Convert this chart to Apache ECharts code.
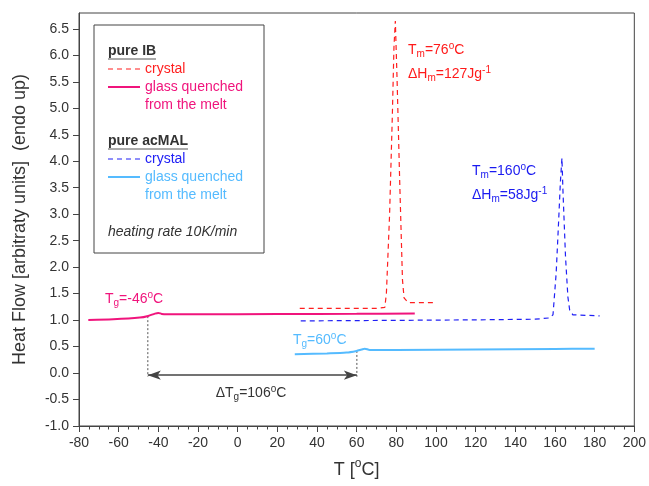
<!DOCTYPE html>
<html><head><meta charset="utf-8">
<script src="https://cdn.jsdelivr.net/npm/echarts@6/dist/echarts.min.js"></script>
<style>html,body{margin:0;padding:0;background:#fff}#c{width:649px;height:486px}</style>
</head><body><div id="c"></div>
<script>
// ---- data ----
const xTicks = [-80,-60,-40,-20,0,20,40,60,80,100,120,140,160,180,200];
const yTicks = [-1.0,-0.5,0.0,0.5,1.0,1.5,2.0,2.5,3.0,3.5,4.0,4.5,5.0,5.5,6.0,6.5];

const ibCrystalT = [31.3, 50, 70, 74.2, 75.0, 76.6, 78.0, 78.8, 79.5, 80.4, 81.7, 83.1, 83.9, 85.9, 99.3];
const ibCrystalV = [1.22, 1.22, 1.22, 1.24, 1.51, 2.99, 4.88, 6.15, 6.65, 5.51, 3.62, 1.76, 1.42, 1.33, 1.33];

const ibGlassT = [-75.3, -62.7, -49.3, -45.1, -41.7, -40.0, -38.3, -35.8, -20, 20, 60, 89.3];
const ibGlassV = [1.004, 1.015, 1.047, 1.079, 1.123, 1.136, 1.117, 1.11, 1.11, 1.115, 1.12, 1.125];

const acCrystalT = [31.8, 80, 120, 150, 157, 159.0, 160.6, 161.8, 162.7, 163.5, 164.0, 165.3, 166.5, 167.4, 169.0, 182.5];
const acCrystalV = [0.985, 0.995, 1.005, 1.017, 1.04, 1.10, 1.89, 2.84, 3.59, 4.06, 3.46, 2.20, 1.44, 1.19, 1.10, 1.08];

const acGlassT = [28.8, 45, 54.9, 59.9, 62.5, 64.1, 66.6, 80, 120, 160, 180];
const acGlassV = [0.355, 0.37, 0.386, 0.418, 0.445, 0.46, 0.437, 0.437, 0.445, 0.455, 0.46];

const tgIB = -45.3, tgIBv = 1.075;
const tgAC = 60.1, tgACv = 0.418;
const arrowLevel = -0.04, dropLevel = -0.07;

// ---- styling ----
const FONT = "'Liberation Sans', Arial, sans-serif";
const RED = '#ff1f1f', PINK = '#f0147c', BLUE = '#2020f5', LBLUE = '#55bbff', GRAY = '#333';
const zip = (a, b) => a.map((v, i) => [v, b[i]]);

function richFor(c) {
  return {
    b:   {fontSize: 14, lineHeight: 18, fill: c, fontFamily: FONT},
    sub: {fontSize: 10, lineHeight: 10, verticalAlign: 'bottom', fill: c, fontFamily: FONT},
    sup: {fontSize: 10, lineHeight: 10, verticalAlign: 'top', fill: c, fontFamily: FONT}
  };
}
function rtext(x, y, text, c, align) {
  return {type: 'text', x: x, y: y, z: 50,
    style: {text: text, rich: richFor(c), align: align || 'left', verticalAlign: 'middle', fill: c, font: '14px ' + FONT}};
}
function ptext(x, y, text, c, extra) {
  return {type: 'text', x: x, y: y, z: 50,
    style: Object.assign({text: text, fill: c, font: '14px ' + FONT, align: 'left', verticalAlign: 'middle'}, extra || {})};
}
function seg(x1, y1, x2, y2, c, w, dash) {
  return {type: 'line', z: 50, shape: {x1: x1, y1: y1, x2: x2, y2: y2},
    style: {stroke: c, lineWidth: w, lineDash: dash || null}};
}

const chart = echarts.init(document.getElementById('c'), null, {renderer: 'canvas'});
const option = {
  animation: false,
  backgroundColor: '#fff',
  grid: {left: 79, right: 14, top: 13, bottom: 60, show: true, borderColor: '#444', borderWidth: 1},
  xAxis: {
    type: 'value', min: xTicks[0], max: xTicks[xTicks.length - 1], interval: 20,
    name: '{b|T [}{s|o}{b|C]}', nameLocation: 'middle', nameGap: 32,
    nameTextStyle: {fontSize: 18, color: GRAY, fontFamily: FONT,
      rich: {b: {fontSize: 18, lineHeight: 24, color: GRAY, fontFamily: FONT},
             s: {fontSize: 12, lineHeight: 12, verticalAlign: 'top', color: GRAY, fontFamily: FONT}}},
    axisLine: {onZero: false, lineStyle: {color: '#444', width: 1}},
    axisTick: {show: true, length: 6, lineStyle: {color: '#444'}},
    minorTick: {show: true, splitNumber: 4, length: 3.5, lineStyle: {color: '#444'}},
    axisLabel: {fontSize: 14, color: GRAY, fontFamily: FONT, margin: 10},
    splitLine: {show: false}
  },
  yAxis: {
    type: 'value', min: yTicks[0], max: 6.8, interval: 0.5,
    name: 'Heat Flow [arbitraty units]  (endo up)', nameLocation: 'middle', nameGap: 50,
    nameTextStyle: {fontSize: 18, color: GRAY, fontFamily: FONT},
    axisLine: {onZero: false, lineStyle: {color: '#444', width: 1}},
    axisTick: {show: true, length: 6, lineStyle: {color: '#444'}, customValues: yTicks},
    axisLabel: {fontSize: 14, color: GRAY, fontFamily: FONT, margin: 10, customValues: yTicks,
      formatter: v => v.toFixed(1)},
    splitLine: {show: false}
  },
  series: [
    {name: 'IB crystal', type: 'line', showSymbol: false, symbol: 'none', z: 3,
     data: zip(ibCrystalT, ibCrystalV), lineStyle: {color: RED, width: 1.2, type: [5, 4]}},
    {name: 'IB glass', type: 'line', showSymbol: false, symbol: 'none', smooth: 0.3, z: 4,
     data: zip(ibGlassT, ibGlassV), lineStyle: {color: PINK, width: 2}},
    {name: 'acMAL crystal', type: 'line', showSymbol: false, symbol: 'none', z: 3,
     data: zip(acCrystalT, acCrystalV), lineStyle: {color: BLUE, width: 1.2, type: [5, 4]}},
    {name: 'acMAL glass', type: 'line', showSymbol: false, symbol: 'none', smooth: 0.3, z: 4,
     data: zip(acGlassT, acGlassV), lineStyle: {color: LBLUE, width: 2}},
    {name: 'tg IB drop', type: 'line', showSymbol: false, symbol: 'none', z: 2,
     data: [[tgIB, tgIBv], [tgIB, dropLevel]], lineStyle: {color: '#555', width: 1, type: [2, 2]}},
    {name: 'tg AC drop', type: 'line', showSymbol: false, symbol: 'none', z: 2,
     data: [[tgAC, tgACv], [tgAC, dropLevel]], lineStyle: {color: '#555', width: 1, type: [2, 2]},
     markLine: {silent: true, symbol: ['arrow', 'arrow'], symbolSize: [7, 13],
       label: {show: false}, lineStyle: {color: '#444', width: 1.5, type: 'solid'},
       data: [[{coord: [tgIB, arrowLevel]}, {coord: [tgAC, arrowLevel]}]]}}
  ],
  graphic: [
    // legend box
    {type: 'rect', z: 40, shape: {x: 94, y: 25, width: 170, height: 228}, style: {fill: '#fff', stroke: '#444', lineWidth: 1}},
    ptext(108, 51, 'pure IB', GRAY, {font: 'bold 14px ' + FONT}),
    seg(108, 59, 156, 59, '#555', 1),
    seg(108, 69, 140, 69, RED, 1.2, [5, 4]),
    ptext(145, 69, 'crystal', RED),
    seg(108, 87, 140, 87, PINK, 2),
    ptext(145, 87, 'glass quenched', PINK),
    ptext(145, 105, 'from the melt', PINK),
    ptext(108, 141, 'pure acMAL', GRAY, {font: 'bold 14px ' + FONT}),
    seg(108, 149, 188, 149, '#555', 1),
    seg(108, 159, 140, 159, BLUE, 1.2, [5, 4]),
    ptext(145, 159, 'crystal', BLUE),
    seg(108, 177, 140, 177, LBLUE, 2),
    ptext(145, 177, 'glass quenched', LBLUE),
    ptext(145, 195, 'from the melt', LBLUE),
    ptext(108, 232, 'heating rate 10K/min', GRAY, {font: 'italic 14px ' + FONT}),
    // annotations
    rtext(408, 50, '{b|T}{sub|m}{b|=76}{sup|o}{b|C}', '#ff1a1a'),
    rtext(408, 74, '{b|\u0394H}{sub|m}{b|=127Jg}{sup|-1}', '#ff1a1a'),
    rtext(472, 171, '{b|T}{sub|m}{b|=160}{sup|o}{b|C}', '#1a1af0'),
    rtext(472, 195, '{b|\u0394H}{sub|m}{b|=58Jg}{sup|-1}', '#1a1af0'),
    rtext(105, 299, '{b|T}{sub|g}{b|=-46}{sup|o}{b|C}', PINK),
    rtext(293, 340, '{b|T}{sub|g}{b|=60}{sup|o}{b|C}', LBLUE),
    rtext(251, 393, '{b|\u0394T}{sub|g}{b|=106}{sup|o}{b|C}', GRAY, 'center')
  ]
};
chart.setOption(option);
</script></body></html>
